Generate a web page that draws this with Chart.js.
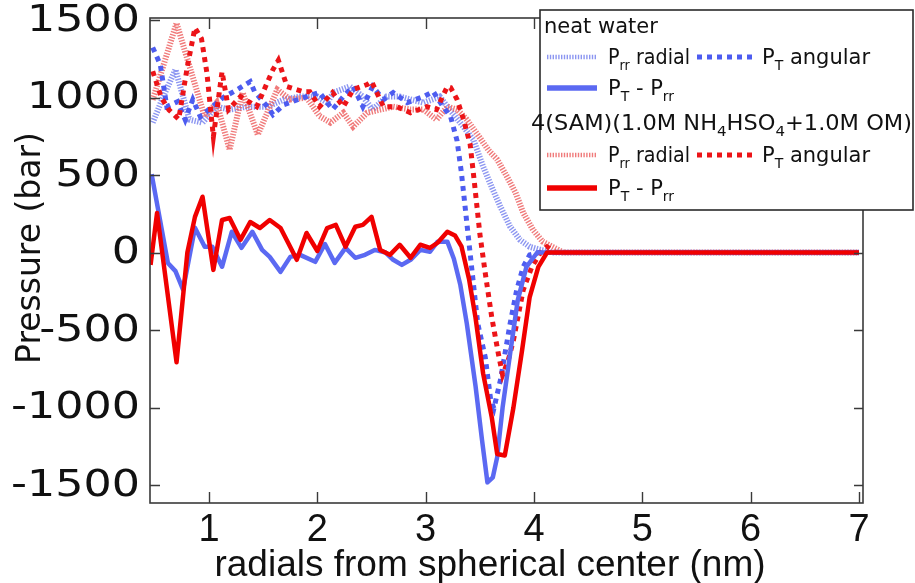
<!DOCTYPE html>
<html>
<head>
<meta charset="utf-8">
<script src="https://cdn.jsdelivr.net/npm/chart.js@4.4.1/dist/chart.umd.min.js"></script>
<style>
  html, body { margin: 0; padding: 0; background: #fff; }
  #wrap { width: 915px; height: 583px; }
</style>
</head>
<body>
<div id="wrap"><canvas id="c" width="915" height="583"></canvas></div>
<script>
// Pressure profiles across the spherical interface (radius in nm, pressure in bar)

// neat water: radial component P_rr
const waterRadialX = [0.48, 0.58, 0.69, 0.82, 0.94, 1.07, 1.19, 1.35, 1.54, 1.69, 1.84, 2.00, 2.09, 2.15, 2.30, 2.42, 2.51, 2.64, 2.76, 2.86, 2.98, 3.13, 3.22, 3.32, 3.44, 3.53, 3.62, 3.69, 3.78, 3.87, 3.96, 4.06, 4.18, 5.0, 6.0, 7.0];
const waterRadialY = [838, 1010, 1180, 857, 838, 941, 922, 941, 941, 987, 1006, 1006, 967, 1032, 1071, 1006, 922, 1006, 1006, 987, 967, 1006, 922, 837, 728, 555, 405, 295, 166, 82, 37, 17, 0, 0, 0, 0];

// neat water: angular component P_T
const waterAngularX = [0.48, 0.55, 0.61, 0.71, 0.78, 0.85, 0.92, 1.03, 1.13, 1.26, 1.38, 1.42, 1.54, 1.59, 1.69, 1.90, 2.02, 2.14, 2.24, 2.33, 2.42, 2.51, 2.61, 2.70, 2.83, 2.98, 3.07, 3.16, 3.23, 3.29, 3.33, 3.38, 3.43, 3.48, 3.55, 3.60, 3.63, 3.69, 3.78, 3.84, 3.90, 3.96, 4.05, 5.0, 6.0, 7.0];
const waterAngularY = [1323, 1212, 941, 973, 857, 987, 876, 941, 1000, 1051, 1103, 1038, 941, 889, 954, 1006, 1032, 922, 1006, 1071, 941, 1071, 987, 1032, 967, 1006, 1038, 941, 876, 720, 514, 190, -133, -456, -676, -950, -1005, -823, -456, -242, -93, -15, 0, 0, 0, 0];

// neat water: P_T - P_rr
const waterDiffX = [0.47, 0.62, 0.69, 0.76, 0.87, 0.96, 1.03, 1.12, 1.21, 1.30, 1.40, 1.49, 1.56, 1.66, 1.75, 1.84, 1.98, 2.07, 2.16, 2.26, 2.35, 2.44, 2.53, 2.63, 2.70, 2.78, 2.86, 2.95, 3.04, 3.11, 3.20, 3.26, 3.32, 3.38, 3.46, 3.52, 3.57, 3.62, 3.66, 3.71, 3.78, 3.85, 3.93, 4.03, 5.0, 6.0, 7.0];
const waterDiffY = [505, -67, -120, -240, 160, 37, 37, -92, 134, 30, 134, 17, -28, -125, -28, -15, -60, 55, -67, 30, -34, -15, 17, 0, -47, -80, -47, 17, 5, 70, 70, -40, -210, -460, -860, -1210, -1483, -1450, -1320, -1000, -650, -307, -93, 0, 0, 0, 0];

// 4(SAM)(1.0M NH4HSO4 + 1.0M OM): radial component P_rr
const samRadialX = [0.48, 0.70, 0.96, 1.07, 1.19, 1.31, 1.45, 1.63, 1.75, 1.90, 2.02, 2.12, 2.24, 2.33, 2.46, 2.58, 2.70, 2.86, 2.98, 3.10, 3.20, 3.29, 3.38, 3.50, 3.58, 3.66, 3.75, 3.83, 3.90, 3.99, 4.08, 4.17, 4.27, 5.0, 6.0, 7.0];
const samRadialY = [985, 1480, 876, 967, 663, 1032, 760, 1051, 987, 1000, 880, 838, 902, 812, 902, 922, 941, 922, 922, 857, 941, 922, 857, 740, 660, 600, 490, 385, 257, 147, 70, 37, 0, 0, 0, 0];

// 4(SAM): angular component P_T
const samAngularX = [0.48, 0.56, 0.63, 0.72, 0.80, 0.87, 0.93, 0.98, 1.04, 1.12, 1.18, 1.29, 1.44, 1.59, 1.64, 1.72, 1.87, 1.93, 2.02, 2.14, 2.24, 2.33, 2.46, 2.50, 2.61, 2.73, 2.86, 3.01, 3.10, 3.20, 3.23, 3.29, 3.35, 3.41, 3.45, 3.50, 3.55, 3.61, 3.67, 3.71, 3.76, 3.81, 3.90, 3.98, 4.06, 4.12, 4.20, 5.0, 6.0, 7.0];
const samAngularY = [1170, 1000, 920, 860, 1200, 1450, 1380, 1160, 747, 1167, 922, 1006, 941, 1180, 1240, 1071, 1038, 1038, 941, 1032, 941, 1051, 1084, 1103, 941, 941, 902, 941, 922, 1071, 1064, 987, 857, 700, 450, 120, -133, -418, -650, -790, -700, -566, -242, -93, 0, 37, 0, 0, 0, 0];

// 4(SAM): P_T - P_rr
const samDiffX = [0.46, 0.52, 0.70, 0.80, 0.87, 0.94, 1.04, 1.12, 1.19, 1.29, 1.38, 1.47, 1.56, 1.66, 1.73, 1.81, 1.90, 2.00, 2.09, 2.17, 2.26, 2.35, 2.42, 2.50, 2.58, 2.67, 2.76, 2.86, 2.95, 3.04, 3.11, 3.20, 3.27, 3.33, 3.40, 3.46, 3.53, 3.61, 3.66, 3.73, 3.81, 3.89, 3.96, 4.04, 4.12, 5.0, 6.0, 7.0];
const samDiffY = [-80, 255, -708, 0, 230, 360, -112, 210, 223, 82, 197, 158, 210, 158, 63, -47, 126, 10, 158, 178, 37, 166, 178, 230, 17, -15, 50, -34, 50, 30, 63, 134, 110, 40, -170, -420, -780, -1064, -1300, -1310, -1000, -630, -287, -93, 0, 0, 0, 0];

// axis ticks
const xTicks = [1, 2, 3, 4, 5, 6, 7];
const yTicks = [-1500, -1000, -500, 0, 500, 1000, 1500];

const BLUE_SOLID = '#5b69f2';
const BLUE_DOT = '#4d5cf0';
const BLUE_HATCH = 'rgba(120,132,238,0.85)';
const RED_SOLID = '#f00000';
const RED_DOT = '#ec1418';
const RED_HATCH = 'rgba(236,90,90,0.8)';

const styles = {
  radial: { borderWidth: 6, borderDash: [1.4, 1.4] },
  angular: { borderWidth: 5, borderDash: [5, 5] },
  diff: { borderWidth: 4.5, borderDash: [] }
};

function pts(xs, ys) { return xs.map((x, i) => ({ x: x, y: ys[i] })); }

function series(label, xs, ys, color, kind, order) {
  return Object.assign({
    label: label,
    data: pts(xs, ys),
    borderColor: color,
    backgroundColor: color,
    pointRadius: 0,
    tension: 0,
    fill: false,
    borderCapStyle: 'butt',
    borderJoinStyle: kind === 'diff' ? 'round' : 'miter',
    order: order
  }, styles[kind]);
}

const datasets = [
  series('neat water P_rr radial', waterRadialX, waterRadialY, BLUE_HATCH, 'radial', 6),
  series('SAM P_rr radial', samRadialX, samRadialY, RED_HATCH, 'radial', 5),
  series('neat water P_T angular', waterAngularX, waterAngularY, BLUE_DOT, 'angular', 4),
  series('SAM P_T angular', samAngularX, samAngularY, RED_DOT, 'angular', 3),
  series('neat water P_T - P_rr', waterDiffX, waterDiffY, BLUE_SOLID, 'diff', 2),
  series('SAM P_T - P_rr', samDiffX, samDiffY, RED_SOLID, 'diff', 1)
];

const SANS = '"DejaVu Sans", Verdana, sans-serif';
const ARIAL = '"Liberation Sans", Arial, sans-serif';

// frame with inward tick marks on all four sides, value labels of the
// pressure axis (wide face) and both axis titles
const framePlugin = {
  id: 'frame',
  afterDatasetsDraw(chart) {
    const { ctx, chartArea: a, scales: { x, y } } = chart;
    ctx.save();
    ctx.strokeStyle = '#3a3a3a';
    ctx.lineWidth = 1.6;
    ctx.strokeRect(a.left, a.top, a.right - a.left, a.bottom - a.top);
    ctx.lineWidth = 1.4;
    ctx.beginPath();
    xTicks.forEach(v => {
      const px = Math.round(x.getPixelForValue(v)) + 0.5;
      ctx.moveTo(px, a.bottom); ctx.lineTo(px, a.bottom - 11);
      ctx.moveTo(px, a.top); ctx.lineTo(px, a.top + 11);
    });
    yTicks.forEach(v => {
      const py = Math.round(y.getPixelForValue(v)) + 0.5;
      ctx.moveTo(a.left, py); ctx.lineTo(a.left + 10, py);
      ctx.moveTo(a.right, py); ctx.lineTo(a.right - 9, py);
    });
    ctx.stroke();

    ctx.fillStyle = '#111';
    ctx.font = '37px ' + SANS;
    ctx.textAlign = 'right';
    ctx.textBaseline = 'middle';
    yTicks.forEach(v => {
      ctx.save();
      ctx.translate(140, y.getPixelForValue(v) + 1);
      ctx.scale(1.2, 1);
      ctx.fillText(String(v), 0, 0);
      ctx.restore();
    });

    ctx.save();
    ctx.translate(31, 248);
    ctx.rotate(-Math.PI / 2);
    ctx.font = '33px ' + SANS;
    ctx.textAlign = 'center';
    ctx.fillText('Pressure (bar)', 0, 0);
    ctx.restore();

    ctx.font = '37px ' + ARIAL;
    ctx.textAlign = 'center';
    ctx.textBaseline = 'alphabetic';
    ctx.fillText('radials from spherical center (nm)', 490, 576);
    ctx.restore();
  }
};

// legend box with sub-scripted labels
function richWidth(ctx, parts, size) {
  let w = 0;
  parts.forEach(p => {
    ctx.font = (p.sub ? Math.round(size * 0.68) : size) + 'px ' + SANS;
    w += ctx.measureText(p.t).width;
  });
  return w;
}
function richText(ctx, x, y, parts, size, fitWidth) {
  ctx.save();
  ctx.translate(x, y);
  if (fitWidth) {
    const w = richWidth(ctx, parts, size);
    ctx.scale(fitWidth / w, 1);
  }
  let cx = 0;
  parts.forEach(p => {
    const s = p.sub ? Math.round(size * 0.68) : size;
    ctx.font = s + 'px ' + SANS;
    ctx.fillText(p.t, cx, p.sub ? size * 0.3 : 0);
    cx += ctx.measureText(p.t).width;
  });
  ctx.restore();
}
function sample(ctx, x0, x1, yy, color, kind) {
  ctx.save();
  ctx.strokeStyle = color;
  ctx.lineCap = 'butt';
  ctx.lineWidth = kind === 'radial' ? 4.5 : kind === 'diff' ? 5.5 : 5;
  ctx.setLineDash(styles[kind].borderDash);
  ctx.beginPath();
  ctx.moveTo(x0, yy); ctx.lineTo(x1, yy);
  ctx.stroke();
  ctx.restore();
}
const legendPlugin = {
  id: 'boxLegend',
  afterDraw(chart) {
    const ctx = chart.ctx;
    const L = 540, T = 10, R = 913, B = 210;
    ctx.save();
    ctx.fillStyle = '#fff';
    ctx.fillRect(L, T, R - L, B - T);
    ctx.strokeStyle = '#2a2a2a';
    ctx.lineWidth = 1.6;
    ctx.strokeRect(L, T, R - L, B - T);
    ctx.fillStyle = '#111';
    ctx.textBaseline = 'alphabetic';
    const fs = 21;
    const Prr = [{ t: 'P' }, { t: 'rr', sub: true }];
    const PT = [{ t: 'P' }, { t: 'T', sub: true }];

    richText(ctx, 544, 33, [{ t: 'neat water' }], fs);
    sample(ctx, 547, 597, 57, BLUE_HATCH, 'radial');
    richText(ctx, 608, 64, Prr.concat([{ t: ' radial' }]), fs, 82);
    sample(ctx, 697, 757, 57, BLUE_DOT, 'angular');
    richText(ctx, 762, 64, PT.concat([{ t: ' angular' }]), fs);
    sample(ctx, 547, 597, 88, BLUE_SOLID, 'diff');
    richText(ctx, 608, 95, PT.concat([{ t: ' - ' }], Prr), fs);

    richText(ctx, 531, 130, [{ t: '4(SAM)(1.0M NH' }, { t: '4', sub: true }, { t: 'HSO' }, { t: '4', sub: true }, { t: '+1.0M OM)' }], fs, 381);
    sample(ctx, 547, 597, 155, RED_HATCH, 'radial');
    richText(ctx, 608, 162, Prr.concat([{ t: ' radial' }]), fs, 82);
    sample(ctx, 697, 757, 155, RED_DOT, 'angular');
    richText(ctx, 762, 162, PT.concat([{ t: ' angular' }]), fs);
    sample(ctx, 547, 597, 188, RED_SOLID, 'diff');
    richText(ctx, 608, 195, PT.concat([{ t: ' - ' }], Prr), fs);
    ctx.restore();
  }
};

function fixedTicks(values) {
  return function (scale) { scale.ticks = values.map(v => ({ value: v })); };
}

new Chart(document.getElementById('c'), {
  type: 'line',
  data: { datasets: datasets },
  options: {
    responsive: false,
    devicePixelRatio: 1,
    animation: false,
    layout: { padding: { left: 0, top: 18, right: 52, bottom: 0 } },
    plugins: { legend: { display: false }, tooltip: { enabled: false } },
    scales: {
      x: {
        type: 'linear',
        min: 0.455,
        max: 7.037,
        afterBuildTicks: fixedTicks(xTicks),
        afterFit(s) { s.height = 80; s.paddingLeft = 0; s.paddingRight = 0; },
        grid: { display: false, drawTicks: false },
        border: { display: false },
        ticks: {
          padding: 5,
          color: '#111',
          font: { family: ARIAL, size: 38, lineHeight: 1.2 },
          callback: v => String(v)
        },
        title: { display: false }
      },
      y: {
        type: 'linear',
        min: -1616,
        max: 1513,
        afterBuildTicks: fixedTicks(yTicks),
        afterFit(s) { s.width = 150; s.paddingTop = 0; s.paddingBottom = 0; },
        grid: { display: false, drawTicks: false },
        border: { display: false },
        ticks: { display: false },
        title: { display: false }
      }
    }
  },
  plugins: [framePlugin, legendPlugin]
});
</script>
</body>
</html>
